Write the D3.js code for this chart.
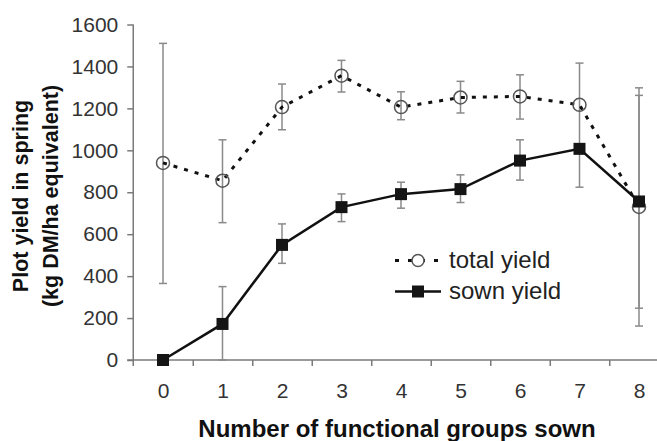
<!DOCTYPE html>
<html>
<head>
<meta charset="utf-8">
<script src="https://cdn.jsdelivr.net/npm/d3@7"></script>
<style>
  body { margin: 0; background: #fff; }
  svg { display: block; font-family: 'Liberation Sans', Arial, sans-serif; }
</style>
</head>
<body>
<svg width="657" height="441"></svg>
<script>
// values
var groups = [0, 1, 2, 3, 4, 5, 6, 7, 8];
var totalYield = [940, 855, 1206, 1356, 1206, 1252, 1257, 1217, 730];
var totalHigh = [1510, 1050, 1316, 1429, 1279, 1329, 1360, 1416, 1298];
var totalLow = [365, 655, 1098, 1278, 1146, 1178, 1149, 824, 162];
var sownYield = [0, 172, 549, 729, 791, 815, 951, 1007, 756];
var sownHigh = [0, 350, 649, 792, 848, 883, 1050, 1007, 1262];
var sownLow = [0, 0, 461, 660, 724, 751, 858, 1007, 247];
var yTicks = [0, 200, 400, 600, 800, 1000, 1200, 1400, 1600];
var xBetween = [0.5, 1.5, 2.5, 3.5, 4.5, 5.5, 6.5, 7.5];

var svg = d3.select('svg'),
  axisColor = '#7a7a7a',
  barColor = '#8a8a8a';

var x = d3.scaleLinear().domain([-0.5, 8.5]).range([133.25, 668.75]),
  y = d3.scaleLinear().domain([0, 1600]).range([360, 24.5]);

// axes
var yAxis = d3.axisLeft(y).tickValues(yTicks).tickSize(6).tickPadding(9).tickFormat(d3.format('d'));
var gy = svg.append('g').attr('transform', 'translate(' + x(-0.5) + ',0)').call(yAxis);
gy.select('.domain').remove();
gy.selectAll('.tick line').attr('stroke', axisColor).attr('stroke-width', 1.5);
gy.selectAll('.tick text').attr('font-size', 21).attr('fill', '#333');

var xTickAxis = d3.axisBottom(x).tickValues(xBetween).tickSize(6).tickFormat('');
var gx = svg.append('g').attr('transform', 'translate(0,' + y(0) + ')').call(xTickAxis);
gx.select('.domain').remove();
gx.selectAll('.tick line').attr('stroke', axisColor).attr('stroke-width', 1.5);

var xLabelAxis = d3.axisBottom(x).tickValues(groups).tickSize(0).tickPadding(23).tickFormat(d3.format('d'));
var gl = svg.append('g').attr('transform', 'translate(0,' + y(0) + ')').call(xLabelAxis);
gl.select('.domain').remove();
gl.selectAll('.tick text').attr('font-size', 21).attr('fill', '#333');

// axis lines
svg.append('line')
  .attr('x1', x(-0.5)).attr('x2', x(-0.5))
  .attr('y1', y(1600)).attr('y2', y(0) + 6)
  .attr('stroke', axisColor).attr('stroke-width', 1.5);
svg.append('line')
  .attr('x1', x(-0.5) - 6).attr('x2', x(8.5))
  .attr('y1', y(0)).attr('y2', y(0))
  .attr('stroke', axisColor).attr('stroke-width', 1.5);

// error bars
function errorBars(lo, hi) {
  var g = svg.append('g').attr('stroke', barColor).attr('stroke-width', 1.5);
  groups.forEach(function (d, i) {
    if (hi[i] === lo[i]) return;
    g.append('line').attr('x1', x(d)).attr('x2', x(d)).attr('y1', y(lo[i])).attr('y2', y(hi[i]));
    g.append('line').attr('x1', x(d) - 4).attr('x2', x(d) + 4).attr('y1', y(lo[i])).attr('y2', y(lo[i]));
    g.append('line').attr('x1', x(d) - 4).attr('x2', x(d) + 4).attr('y1', y(hi[i])).attr('y2', y(hi[i]));
  });
}
errorBars(totalLow, totalHigh);
errorBars(sownLow, sownHigh);

// lines
var line = d3.line().x((d) => x(d[0])).y((d) => y(d[1]));
svg.append('path')
  .datum(groups.map((d, i) => [d, totalYield[i]]))
  .attr('d', line)
  .attr('fill', 'none')
  .attr('stroke', '#111')
  .attr('stroke-width', 3)
  .attr('stroke-dasharray', '4,7');
svg.append('path')
  .datum(groups.map((d, i) => [d, sownYield[i]]))
  .attr('d', line)
  .attr('fill', 'none')
  .attr('stroke', '#111')
  .attr('stroke-width', 2.5);

// markers
svg.selectAll('circle.total')
  .data(groups)
  .enter()
  .append('circle')
  .attr('class', 'total')
  .attr('cx', (d) => x(d))
  .attr('cy', (d, i) => y(totalYield[i]))
  .attr('r', 6.5)
  .attr('fill', 'none')
  .attr('stroke', '#555')
  .attr('stroke-width', 1.5);
svg.selectAll('rect.sown')
  .data(groups)
  .enter()
  .append('rect')
  .attr('class', 'sown')
  .attr('x', (d) => x(d) - 6)
  .attr('y', (d, i) => y(sownYield[i]) - 6)
  .attr('width', 12)
  .attr('height', 12)
  .attr('fill', '#151515');

// legend
var lg = svg.append('g');
lg.append('line').attr('x1', 395).attr('x2', 441).attr('y1', 260.5).attr('y2', 260.5)
  .attr('stroke', '#111').attr('stroke-width', 3).attr('stroke-dasharray', '4,9');
lg.append('circle').attr('cx', 418).attr('cy', 260.5).attr('r', 6).attr('fill', '#fff')
  .attr('stroke', '#555').attr('stroke-width', 1.5);
lg.append('text').attr('x', 449).attr('y', 268).attr('font-size', 24).attr('fill', '#222').text('total yield');
lg.append('line').attr('x1', 395).attr('x2', 441).attr('y1', 291.5).attr('y2', 291.5)
  .attr('stroke', '#111').attr('stroke-width', 2.5);
lg.append('rect').attr('x', 412).attr('y', 285.5).attr('width', 12).attr('height', 12).attr('fill', '#151515');
lg.append('text').attr('x', 449).attr('y', 299).attr('font-size', 24).attr('fill', '#222').text('sown yield');

// axis titles
svg.append('text')
  .attr('x', 397).attr('y', 437)
  .attr('text-anchor', 'middle')
  .attr('font-size', 24).attr('font-weight', 'bold').attr('fill', '#111')
  .text('Number of functional groups sown');
var yt = svg.append('g').attr('transform', 'translate(0,196) rotate(-90)');
yt.append('text').attr('x', 0).attr('y', 28)
  .attr('text-anchor', 'middle').attr('font-size', 21.5).attr('font-weight', 'bold').attr('fill', '#111')
  .text('Plot yield in spring');
yt.append('text').attr('x', 0).attr('y', 58)
  .attr('text-anchor', 'middle').attr('font-size', 21.5).attr('font-weight', 'bold').attr('fill', '#111')
  .text('(kg DM/ha equivalent)');
</script>
</body>
</html>
